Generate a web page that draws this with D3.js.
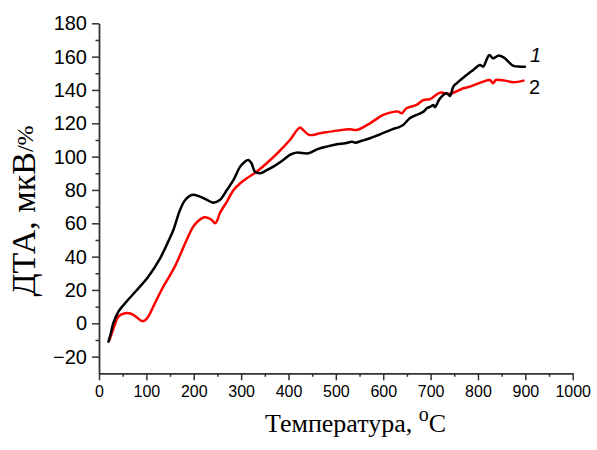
<!DOCTYPE html>
<html>
<head>
<meta charset="utf-8">
<script src="https://cdn.jsdelivr.net/npm/d3@7"></script>
<style>
  html, body { margin: 0; padding: 0; background: #fff; }
  svg { display: block; }
</style>
</head>
<body>
<svg id="chart" width="597" height="450"></svg>
<script>
// DTA curves: sample 1 (black) and sample 2 (red)
const temp1 = [20, 25, 30, 41, 58, 80, 104, 129, 146, 157, 171, 182, 196, 213, 228, 241, 255, 270, 284, 298, 308, 315, 322, 329, 340, 355, 368, 389, 403, 417, 442, 460, 480, 502, 520, 534, 541, 555, 572, 590, 607, 620, 632, 642, 656, 670, 685, 692, 700, 706, 709, 720, 734, 741, 748, 755, 776, 790, 804, 811, 818, 824, 832, 843, 854, 864, 875, 889, 899];
const dta1  = [-11, -6, 0, 7, 13, 20, 28, 39, 49, 56, 68, 74, 77, 76, 74, 72.4, 74, 80, 86, 94, 97, 98, 96, 91, 90, 92, 94, 98, 101, 102.4, 102, 104.4, 106, 107.4, 108, 109, 108.4, 109.5, 111, 113, 115, 116.5, 117.6, 119, 123, 125, 127, 129, 130, 131, 129.6, 135, 138, 136.4, 142, 144, 149, 152, 155, 154, 158, 161, 159, 160.6, 159.6, 157, 154.4, 154, 154];

const temp2 = [22, 27, 32, 41, 55, 69, 80, 90, 97, 104, 118, 132, 160, 185, 199, 210, 222, 232, 238, 245, 250, 255, 270, 284, 298, 312, 333, 354, 380, 403, 424, 431, 444, 467, 502, 530, 544, 572, 600, 625, 632, 639, 649, 670, 685, 699, 720, 737, 745, 769, 783, 811, 825, 832, 838, 857, 875, 896];
const dta2  = [-10, -6, -2, 4, 6, 5.6, 3.5, 1.4, 1.8, 4, 12, 20, 34, 50, 58, 61.5, 63.6, 63, 62, 60, 62, 66, 73, 80, 84, 87, 91, 96, 103, 110, 117.4, 116, 113, 114, 115.6, 116.4, 116, 120, 125, 127, 127, 126, 129, 131, 134, 134.5, 138.4, 137.6, 138, 141, 142, 145, 146, 144, 146, 145.6, 144.6, 145.6];

const xTicks = [0, 100, 200, 300, 400, 500, 600, 700, 800, 900, 1000];
const xMinor = [50, 150, 250, 350, 450, 550, 650, 750, 850, 950];
const yTicks = [-20, 0, 20, 40, 60, 80, 100, 120, 140, 160, 180];
const yMinor = [-10, 10, 30, 50, 70, 90, 110, 130, 150, 170];

const seriesNames = ["1", "2"];
const seriesColors = ["#000000", "#ff0000"];

const svg = d3.select("#chart");

const x = d3.scaleLinear().domain([0, 1000]).range([99, 572.7]);
const y = d3.scaleLinear().domain([-30, 180]).range([373.3, 23.3]);

const axisColor = "#333";

// Minor ticks first (no labels)
svg.append("g")
  .attr("transform", `translate(0,${y(-30)})`)
  .call(d3.axisBottom(x).tickValues(xMinor).tickSize(3.5).tickSizeOuter(0).tickFormat(""))
  .call(g => g.select(".domain").remove());
svg.append("g")
  .attr("transform", `translate(${x(0)},0)`)
  .call(d3.axisLeft(y).tickValues(yMinor).tickSize(3.5).tickSizeOuter(0).tickFormat(""))
  .call(g => g.select(".domain").remove());

// Major ticks with labels
const gx = svg.append("g")
  .attr("transform", `translate(0,${y(-30)})`)
  .call(d3.axisBottom(x).tickValues(xTicks).tickSize(7).tickSizeOuter(0).tickPadding(5).tickFormat(d3.format("d")));
gx.selectAll("text")
  .attr("font-family", "'Liberation Sans', Arial, sans-serif")
  .attr("font-size", 16).attr("fill", "#000");

const gy = svg.append("g")
  .attr("transform", `translate(${x(0)},0)`)
  .call(d3.axisLeft(y).tickValues(yTicks).tickSize(7).tickSizeOuter(0).tickPadding(5).tickFormat(d3.format("d")));
gy.selectAll("text")
  .attr("font-family", "'Liberation Sans', Arial, sans-serif")
  .attr("font-size", 20).attr("fill", "#000");

svg.selectAll(".tick line").attr("stroke", axisColor).attr("stroke-width", 1.5);
svg.selectAll(".domain").attr("stroke", axisColor).attr("stroke-width", 1.8);

// Curves
const line = d3.line()
  .x(d => x(d[0]))
  .y(d => y(d[1]))
  .curve(d3.curveCatmullRom.alpha(0.5));

const series = [d3.zip(temp1, dta1), d3.zip(temp2, dta2)];

// red drawn first so the black curve sits on top where they cross
[1, 0].forEach(i => {
  svg.append("path")
    .datum(series[i])
    .attr("fill", "none")
    .attr("stroke", seriesColors[i])
    .attr("stroke-width", 2.5)
    .attr("stroke-linejoin", "round")
    .attr("stroke-linecap", "round")
    .attr("d", line);
});

// Curve labels
svg.append("text")
  .attr("x", 530).attr("y", 62)
  .attr("font-family", "'Liberation Sans', Arial, sans-serif")
  .attr("font-size", 20).attr("font-style", "italic")
  .text(seriesNames[0]);
svg.append("text")
  .attr("x", 529).attr("y", 94)
  .attr("font-family", "'Liberation Sans', Arial, sans-serif")
  .attr("font-size", 20)
  .text(seriesNames[1]);

// Axis titles
const xt = svg.append("text")
  .attr("x", 265).attr("y", 432)
  .attr("font-family", "'Liberation Serif', 'Times New Roman', serif")
  .attr("font-size", 26).attr("fill", "#000");
xt.append("tspan").text("Температура, ");
xt.append("tspan").attr("font-size", 20).attr("dy", -11).text("o");
xt.append("tspan").attr("dy", 11).text("C");

const yt = svg.append("text")
  .attr("transform", "translate(35,211) rotate(-90)")
  .attr("text-anchor", "middle")
  .attr("font-family", "'Liberation Serif', 'Times New Roman', serif")
  .attr("font-size", 34).attr("fill", "#000");
yt.append("tspan").text("ДТА, мкВ");
yt.append("tspan").attr("font-size", 24).attr("dy", -2).text("/%");
</script>
</body>
</html>
